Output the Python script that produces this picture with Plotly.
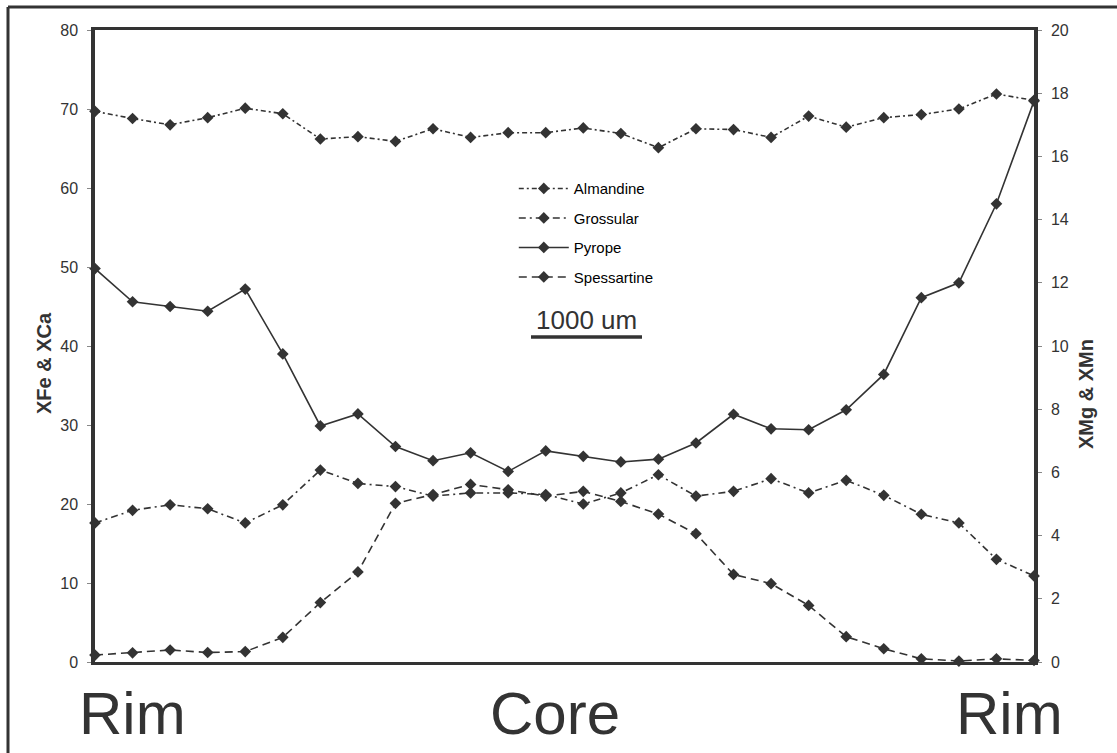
import plotly.graph_objects as go

# ---- data ----
positions = list(range(26))
almandine = [69.7, 68.8, 68.0, 68.9, 70.1, 69.4, 66.2, 66.5, 65.9, 67.5, 66.4, 67.0, 67.0,
             67.6, 66.9, 65.1, 67.5, 67.4, 66.4, 69.1, 67.7, 68.9, 69.3, 70.0, 71.9, 71.1]
grossular = [17.6, 19.2, 19.9, 19.4, 17.6, 19.9, 24.3, 22.6, 22.2, 21.0, 21.4, 21.4, 21.2,
             20.0, 21.4, 23.7, 21.0, 21.6, 23.2, 21.4, 23.0, 21.1, 18.7, 17.6, 13.0, 10.9]
pyrope = [12.45, 11.4, 11.25, 11.1, 11.8, 9.75, 7.47, 7.85, 6.82, 6.37, 6.62, 6.03, 6.68,
          6.51, 6.33, 6.42, 6.93, 7.84, 7.38, 7.35, 7.98, 9.1, 11.53, 12.0, 14.5, 17.75]
spessartine = [0.22, 0.29, 0.38, 0.3, 0.33, 0.78, 1.88, 2.85, 5.02, 5.3, 5.62, 5.45, 5.25,
               5.4, 5.08, 4.68, 4.06, 2.77, 2.48, 1.79, 0.8, 0.42, 0.1, 0.03, 0.1, 0.05]
left_ticks = [0, 10, 20, 30, 40, 50, 60, 70, 80]
right_ticks = [0, 2, 4, 6, 8, 10, 12, 14, 16, 18, 20]
zone_labels = ["Rim", "Core", "Rim"]
zone_positions = [1.0, 12.25, 24.36]
left_title = "XFe & XCa"
right_title = "XMg & XMn"

INK = "#333333"
FONT = "Arial, Liberation Sans, sans-serif"

fig = go.Figure()

def add(name, y, dash, axis, group):
    fig.add_trace(go.Scatter(
        x=positions, y=y, name=name, yaxis=axis, mode="lines+markers",
        line=dict(color=INK, width=1.6, dash=dash),
        marker=dict(symbol="diamond", size=9, color=INK),
        cliponaxis=False, legendgroup=group))

add("Almandine", almandine, "5px,3px,2px,3px", "y", "a")
add("Grossular", grossular, "7px,4px,2px,4px", "y", "b")
add("Pyrope", pyrope, "solid", "y2", "c")
add("Spessartine", spessartine, "8px,5px", "y2", "d")

fig.update_layout(
    width=1117, height=753,
    margin=dict(l=95, r=83, t=30, b=91),
    paper_bgcolor="white", plot_bgcolor="white",
    font=dict(family=FONT, color=INK, size=16),
    showlegend=True,
    legend=dict(x=0.446, y=0.775, xanchor="left", yanchor="top",
                bgcolor="rgba(0,0,0,0)", font=dict(size=15, color="black"),
                tracegroupgap=7, itemwidth=50),
    xaxis=dict(range=[0, 25], showgrid=False, zeroline=False, showticklabels=False,
               ticks="", showline=True, linecolor=INK, linewidth=3, mirror=True),
    yaxis=dict(range=[0, 80], tickvals=left_ticks, showgrid=False, zeroline=False,
               ticks="outside", ticklen=4, tickcolor="#888", ticklabelstandoff=6,
               showline=True, linecolor=INK, linewidth=3.5),
    yaxis2=dict(range=[0, 20], tickvals=right_ticks, overlaying="y", side="right",
                showgrid=False, zeroline=False, ticks="outside", ticklen=4,
                tickcolor="#888", ticklabelstandoff=6, showline=True,
                linecolor=INK, linewidth=3.5),
)

# axis titles (placed like the reference)
fig.add_annotation(x=(44 - 95) / 939, y=(662 - 363) / 632, xref="paper", yref="paper",
                   text="<b>%s</b>" % left_title, textangle=-90, showarrow=False,
                   font=dict(size=20, color=INK), xanchor="center", yanchor="middle")
fig.add_annotation(x=(1086 - 95) / 939, y=(662 - 394) / 632, xref="paper", yref="paper",
                   text="<b>%s</b>" % right_title, textangle=-90, showarrow=False,
                   font=dict(size=20, color=INK), xanchor="center", yanchor="middle")

# zone labels under the axis
for lab, xp in zip(zone_labels, zone_positions):
    fig.add_annotation(x=xp, y=-0.081, xref="x", yref="paper", text=lab,
                       showarrow=False, font=dict(size=60, color=INK, family=FONT),
                       xanchor="center", yanchor="middle")

# scale bar
fig.add_annotation(x=(586 - 95) / 939, y=(662 - 320) / 632, xref="paper", yref="paper",
                   text="1000 um", showarrow=False, font=dict(size=26, color=INK),
                   xanchor="center", yanchor="middle")
fig.add_shape(type="line", xref="paper", yref="paper",
              x0=(531 - 95) / 939, x1=(642 - 95) / 939,
              y0=(662 - 337) / 632, y1=(662 - 337) / 632,
              line=dict(color=INK, width=3.5))

# outer frame (scan border)
fig.add_shape(type="line", xref="paper", yref="paper",
              x0=(8 - 95) / 939, x1=(1125 - 95) / 939,
              y0=(662 - 7) / 632, y1=(662 - 7) / 632, line=dict(color=INK, width=3))
fig.add_shape(type="line", xref="paper", yref="paper",
              x0=(8 - 95) / 939, x1=(8 - 95) / 939,
              y0=(662 - 7) / 632, y1=(662 - 760) / 632, line=dict(color=INK, width=3))

fig.write_html("out.html", config={"displayModeBar": False},
               post_script="document.body.style.margin='0';")
